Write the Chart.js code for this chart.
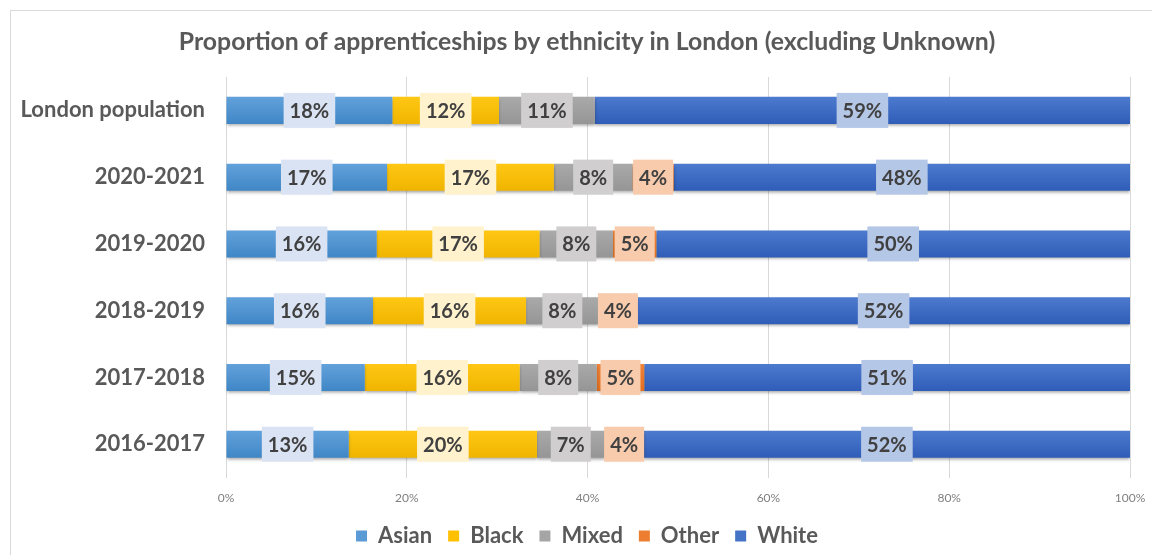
<!DOCTYPE html>
<html>
<head>
<meta charset="utf-8">
<script src="https://cdn.jsdelivr.net/npm/chart.js@4/dist/chart.umd.min.js"></script>
<style>
  html, body { margin: 0; padding: 0; background: #ffffff; }
  #wrap { position: relative; width: 1152px; height: 555px; }
</style>
</head>
<body>
<div id="wrap"><canvas id="c" width="1152" height="555"></canvas></div>
<script>
// ---- Data (percent values; bars are drawn 100% stacked) ----
const categories = ["London population", "2020-2021", "2019-2020", "2018-2019", "2017-2018", "2016-2017"];
const seriesNames = ["Asian", "Black", "Mixed", "Other", "White"];
const asian = [18.4, 16.8, 16.0, 15.6, 14.6, 13.1];
const black = [11.8, 17.4, 17.3, 16.25, 16.3, 20.1];
const mixed = [10.6, 8.2, 7.8, 7.7, 8.1, 7.2];
const other = [0, 4.3, 4.6, 4.1, 5.0, 4.2];
const white = [59.2, 47.6, 50.3, 52.3, 51.1, 51.9];
const xTickLabels = ["0%", "20%", "40%", "60%", "80%", "100%"];
const titleText = 'Proportion of apprenticeships by ethnicity in London (excluding Unknown)';

// ---- Styling ----
const barTop = ["#63a2db", "#ffc814", "#aaaaaa", "#f0843a", "#4d7bcf"];
const barBot = ["#3f86c6", "#efb400", "#959595", "#e06e1e", "#2f5cb7"];
const legendCol = ["#5b9bd5", "#ffc000", "#a5a5a5", "#ed7d31", "#4472c4"];
const labelBg = ["#dae3f3", "#fff2cc", "#d0cece", "#f8cbad", "#b4c7e7"];
const FONT = "Lato, 'Open Sans', sans-serif";
const LEGEND_PAD = 16;

const raw = [asian, black, mixed, other, white];
const totals = categories.map((_, i) => raw.reduce((s, a) => s + a[i], 0));
const norm = raw.map(a => a.map((v, i) => v / totals[i] * 100));

function gradFor(si) {
  return (c) => {
    const chart = c.chart;
    const ys = chart.scales.y;
    if (!ys || c.dataIndex === undefined) return barTop[si];
    const y = ys.getPixelForValue(c.dataIndex);
    const h = 14;
    const g = chart.ctx.createLinearGradient(0, y - h, 0, y + h);
    g.addColorStop(0, barTop[si]);
    g.addColorStop(1, barBot[si]);
    return g;
  };
}

const datasets = seriesNames.map((name, si) => ({
  label: name,
  data: norm[si],
  rawData: raw[si],
  backgroundColor: gradFor(si),
  borderWidth: 0,
  barPercentage: 0.81,
  categoryPercentage: 0.5,
  labelBg: labelBg[si]
}));

const framePlugin = {
  id: 'frame',
  beforeDraw(chart) {
    const ctx = chart.ctx;
    ctx.save();
    ctx.fillStyle = '#ffffff';
    ctx.fillRect(0, 0, chart.width, chart.height);
    ctx.strokeStyle = '#d9d9d9';
    ctx.lineWidth = 1;
    ctx.strokeRect(10.5, 10.5, chart.width - 10, chart.height - 10);
    // title
    ctx.fillStyle = '#595959';
    ctx.font = "bold 24.8px " + FONT;
    ctx.textAlign = 'center';
    ctx.textBaseline = 'middle';
    ctx.fillText(titleText, 587, 42);
    ctx.restore();
  }
};

const shadowPlugin = {
  id: 'barShadow',
  beforeDatasetsDraw(chart) {
    const ctx = chart.ctx;
    ctx.save();
    ctx.shadowColor = 'rgba(0,0,0,0.35)';
    ctx.shadowBlur = 3;
    ctx.shadowOffsetY = 2;
  },
  afterDatasetsDraw(chart) {
    chart.ctx.restore();
  }
};

const labelPlugin = {
  id: 'barLabels',
  afterDatasetsDraw(chart) {
    const ctx = chart.ctx;
    ctx.save();
    ctx.font = "bold 20px " + FONT;
    ctx.textAlign = 'center';
    ctx.textBaseline = 'middle';
    chart.data.datasets.forEach((ds, di) => {
      const meta = chart.getDatasetMeta(di);
      meta.data.forEach((el, i) => {
        const v = ds.rawData[i];
        if (!v) return;
        const txt = Math.round(v) + '%';
        const p = el.getProps(['x', 'y', 'base'], true);
        const cx = (p.x + p.base) / 2;
        const w = ctx.measureText(txt).width + 12;
        const h = 35;
        ctx.fillStyle = ds.labelBg;
        ctx.fillRect(cx - w / 2, p.y - h / 2, w, h);
        ctx.fillStyle = '#404040';
        ctx.fillText(txt, cx, p.y + 1);
      });
    });
    ctx.restore();
  }
};

new Chart(document.getElementById('c'), {
  type: 'bar',
  data: { labels: categories, datasets },
  plugins: [framePlugin, shadowPlugin, labelPlugin],
  options: {
    indexAxis: 'y',
    responsive: false,
    animation: false,
    devicePixelRatio: 1,
    layout: { padding: { left: 44, right: 22, top: 77, bottom: -2 } },
    scales: {
      x: {
        stacked: true,
        min: 0, max: 100,
        ticks: {
          stepSize: 20,
          color: '#7f7f7f',
          font: { family: FONT, size: 12 },
          padding: 13,
          callback: (v) => xTickLabels[Math.round(v / 20)]
        },
        grid: { color: '#d9d9d9', drawTicks: false },
        border: { display: false },
        afterFit(scale) {
          scale.paddingLeft = 0;
          scale.paddingRight = 0;
          scale.height -= (LEGEND_PAD - 7);
        }
      },
      y: {
        stacked: true,
        ticks: {
          color: '#595959',
          font: { family: FONT, size: 22, weight: 'bold' },
          padding: 21
        },
        grid: { display: false, drawTicks: false },
        border: { display: false },
        afterFit(scale) {
          scale.width = 182;
          scale.paddingTop = 0;
          scale.paddingBottom = 0;
          // let the long category labels extend left of the axis box without clipping
          scale._computeLabelArea = function () { return undefined; };
        }
      }
    },
    plugins: {
      title: { display: false },
      legend: {
        position: 'bottom',
        labels: {
          color: '#595959',
          font: { family: FONT, size: 22, weight: 'bold' },
          boxWidth: 11,
          boxHeight: 11,
          padding: LEGEND_PAD,
          generateLabels(chart) {
            return chart.data.datasets.map((ds, i) => ({
              text: ds.label,
              fillStyle: legendCol[i],
              strokeStyle: legendCol[i],
              lineWidth: 0,
              hidden: false,
              datasetIndex: i,
              fontColor: '#595959'
            }));
          }
        }
      },
      tooltip: { enabled: false }
    }
  }
});
</script>
</body>
</html>
